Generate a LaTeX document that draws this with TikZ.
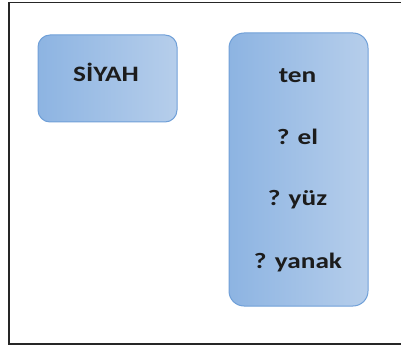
\documentclass[tikz,border=0pt]{standalone}
\usepackage{fontspec}
\setmainfont{Carlito}
\newfontfamily\widefont[FakeStretch=1.24]{Carlito}
\definecolor{boxleft}{RGB}{141,180,226}
\definecolor{boxright}{RGB}{182,206,235}
\definecolor{boxline}{RGB}{112,160,216}
\definecolor{txt}{RGB}{28,28,28}
\begin{document}
\begin{tikzpicture}[x=1pt,y=-1pt,
  bluebox/.style={draw=boxline,line width=1pt,rounded corners=12pt,left color=boxleft,right color=boxright,shading angle=90,inner sep=0pt,minimum width=139pt},
  word/.style={anchor=base,text=txt,font=\widefont\bfseries\fontsize{22}{26}\selectfont,inner sep=0pt}]
\useasboundingbox (0,0) rectangle (401,347);
\draw[line width=1.6pt,draw=black!85] (9,2.5) rectangle (405,344);
\node[bluebox,minimum height=87pt] (siyah) at (107.5,78.5) {};
\node[bluebox,minimum height=273pt,rounded corners=15pt] (grp) at (298.5,169.5) {};
\node[word] (t0) at (106,82) {SİYAH};
\node[word] (t1) at (297.5,83) {ten};
\node[word] (t2) at (297.5,145) {? el};
\node[word] (t3) at (297.5,206) {? yüz};
\node[word] (t4) at (298,268) {? yanak};
\end{tikzpicture}
\end{document}
